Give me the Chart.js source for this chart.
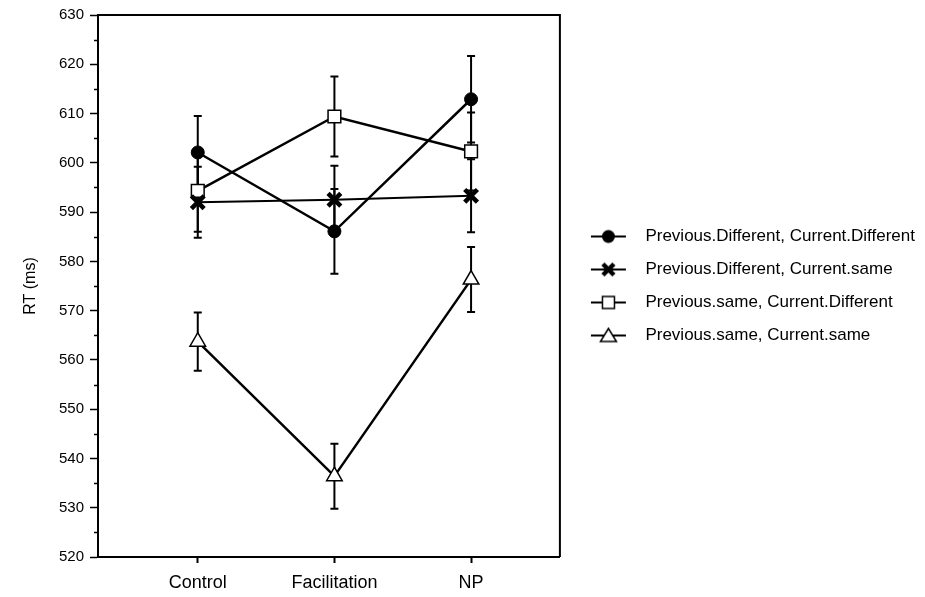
<!DOCTYPE html>
<html>
<head>
<meta charset="utf-8">
<title>RT by condition</title>
<script src="https://cdn.jsdelivr.net/npm/chart.js@4.4.1/dist/chart.umd.min.js"></script>
<style>
  html, body { margin: 0; padding: 0; background: #fff; }
  #wrap { width: 925px; height: 597px; }
</style>
</head>
<body>
<div id="wrap"><canvas id="chartCanvas" width="925" height="597"></canvas></div>
<script>
// Conditions on the x axis
const categories = ['Control', 'Facilitation', 'NP'];

// Series labels
const seriesLabels = [
  'Previous.Different, Current.Different',
  'Previous.Different, Current.same',
  'Previous.same, Current.Different',
  'Previous.same, Current.same'
];

// Mean RT (ms) per condition
const pdcdMean = [602.1, 586.1, 612.9];
const pdcsMean = [592.0, 592.5, 593.3];
const pscdMean = [594.3, 609.4, 602.3];
const pscsMean = [563.7, 536.4, 576.3];

// Standard errors (ms)
const pdcdErr = [7.4, 8.6, 8.8];
const pdcsErr = [7.2, 6.9, 7.4];
const pscdErr = [8.3, 8.1, 7.9];
const pscsErr = [5.9, 6.6, 6.6];

// Y axis range
const yMin = 520;
const yMax = 630;
const yStep = 10;

const means = [pdcdMean, pdcsMean, pscdMean, pscsMean];
const errs = [pdcdErr, pdcsErr, pscdErr, pscsErr];

const markerStyles = ['circle', 'crossRot', 'rect', 'triangle'];
const markerRadius = [6.5, 9, 9, 9];
const markerFill = ['#000', '#000', '#fff', '#fff'];
const markerBorder = [1, 4.5, 1.5, 1.5];
const lineWidths = [2.5, 2, 2.5, 2.5];

// Small canvas with a line and marker, used as the legend symbol
function legendSymbol(style) {
  const c = document.createElement('canvas');
  c.width = 61;
  c.height = 18;
  const g = c.getContext('2d');
  const cx = 32.5, cy = 9;
  g.strokeStyle = '#000';
  g.fillStyle = '#000';
  g.lineWidth = 2;
  g.beginPath();
  g.moveTo(15, cy);
  g.lineTo(50, cy);
  g.stroke();
  g.lineWidth = 1.5;
  if (style === 'circle') {
    g.beginPath();
    g.arc(cx, cy, 6.5, 0, Math.PI * 2);
    g.fill();
  } else if (style === 'crossRot') {
    g.lineWidth = 4.5;
    g.beginPath();
    g.moveTo(cx - 5.5, cy - 5.5); g.lineTo(cx + 5.5, cy + 5.5);
    g.moveTo(cx + 5.5, cy - 5.5); g.lineTo(cx - 5.5, cy + 5.5);
    g.stroke();
  } else if (style === 'rect') {
    g.fillStyle = '#fff';
    g.fillRect(cx - 6, cy - 6, 12, 12);
    g.strokeRect(cx - 6, cy - 6, 12, 12);
  } else {
    g.fillStyle = '#fff';
    g.beginPath();
    g.moveTo(cx, cy - 7);
    g.lineTo(cx + 8, cy + 6);
    g.lineTo(cx - 8, cy + 6);
    g.closePath();
    g.fill();
    g.stroke();
  }
  return c;
}

// Vertical error bars with caps, drawn under the markers
const errorBars = {
  id: 'errorBars',
  beforeDatasetsDraw(chart) {
    const { ctx, scales: { x, y } } = chart;
    ctx.save();
    ctx.strokeStyle = '#000';
    ctx.lineWidth = 2;
    means.forEach((m, i) => {
      m.forEach((v, j) => {
        const px = x.getPixelForValue(j);
        const top = y.getPixelForValue(v + errs[i][j]);
        const bot = y.getPixelForValue(v - errs[i][j]);
        ctx.beginPath();
        ctx.moveTo(px, top); ctx.lineTo(px, bot);
        ctx.moveTo(px - 4, top); ctx.lineTo(px + 4, top);
        ctx.moveTo(px - 4, bot); ctx.lineTo(px + 4, bot);
        ctx.stroke();
      });
    });
    ctx.restore();
  }
};

// Box frame on top and right, plus minor ticks on the y axis
const frame = {
  id: 'frame',
  afterDraw(chart) {
    const { ctx, chartArea: a, scales: { y } } = chart;
    ctx.save();
    ctx.strokeStyle = '#000';
    ctx.lineWidth = 2;
    ctx.beginPath();
    ctx.moveTo(a.left, a.top);
    ctx.lineTo(a.right, a.top);
    ctx.lineTo(a.right, a.bottom);
    ctx.stroke();
    ctx.lineWidth = 1.5;
    ctx.beginPath();
    for (let v = yMin + yStep / 2; v < yMax; v += yStep) {
      const py = Math.round(y.getPixelForValue(v)) + 0.5;
      ctx.moveTo(a.left - 4, py);
      ctx.lineTo(a.left, py);
    }
    ctx.stroke();
    ctx.restore();
  }
};

const datasets = means.map((m, i) => ({
  label: seriesLabels[i],
  data: m.map((v, j) => ({ x: j, y: v })),
  borderColor: '#000',
  borderWidth: lineWidths[i],
  pointStyle: markerStyles[i],
  pointRadius: markerRadius[i],
  pointHoverRadius: markerRadius[i],
  pointBackgroundColor: markerFill[i],
  pointBorderColor: '#000',
  pointBorderWidth: markerBorder[i],
  tension: 0,
  fill: false
}));

const symbols = markerStyles.map(legendSymbol);

Chart.defaults.font.family = '"Liberation Sans", Arial, sans-serif';
Chart.defaults.color = '#000';

new Chart(document.getElementById('chartCanvas'), {
  type: 'line',
  data: { datasets: datasets },
  plugins: [errorBars, frame],
  options: {
    responsive: false,
    animation: false,
    layout: { padding: { left: 4, top: 14, right: 0, bottom: 0 } },
    scales: {
      x: {
        type: 'linear',
        min: -0.73,
        max: 2.65,
        afterBuildTicks(scale) {
          scale.ticks = categories.map((c, i) => ({ value: i }));
        },
        afterFit(scale) { scale.height = 40; },
        ticks: {
          callback: (v) => categories[v],
          font: { size: 18 },
          padding: 9,
          maxRotation: 0
        },
        grid: { drawOnChartArea: false, tickLength: 6, tickColor: '#000', tickWidth: 2 },
        border: { color: '#000', width: 2 }
      },
      y: {
        min: yMin,
        max: yMax,
        afterFit(scale) { scale.width = 94; },
        ticks: { stepSize: yStep, font: { size: 15 }, padding: 6 },
        grid: { drawOnChartArea: false, tickLength: 8, tickColor: '#000', tickWidth: 1.5 },
        border: { color: '#000', width: 2 },
        title: { display: true, text: 'RT (ms)', font: { size: 16 }, padding: { top: 17, bottom: 0 } }
      }
    },
    plugins: {
      legend: {
        position: 'right',
        fullSize: false,
        maxWidth: 400,
        labels: {
          usePointStyle: true,
          pointStyleWidth: 61,
          padding: 16,
          font: { size: 17 },
          color: '#000',
          generateLabels: (chart) => seriesLabels.map((t, i) => ({
            text: t,
            pointStyle: symbols[i],
            datasetIndex: i,
            hidden: false,
            lineWidth: 0,
            fillStyle: '#000',
            strokeStyle: '#000'
          }))
        }
      },
      tooltip: { enabled: false }
    }
  }
});
</script>
</body>
</html>
